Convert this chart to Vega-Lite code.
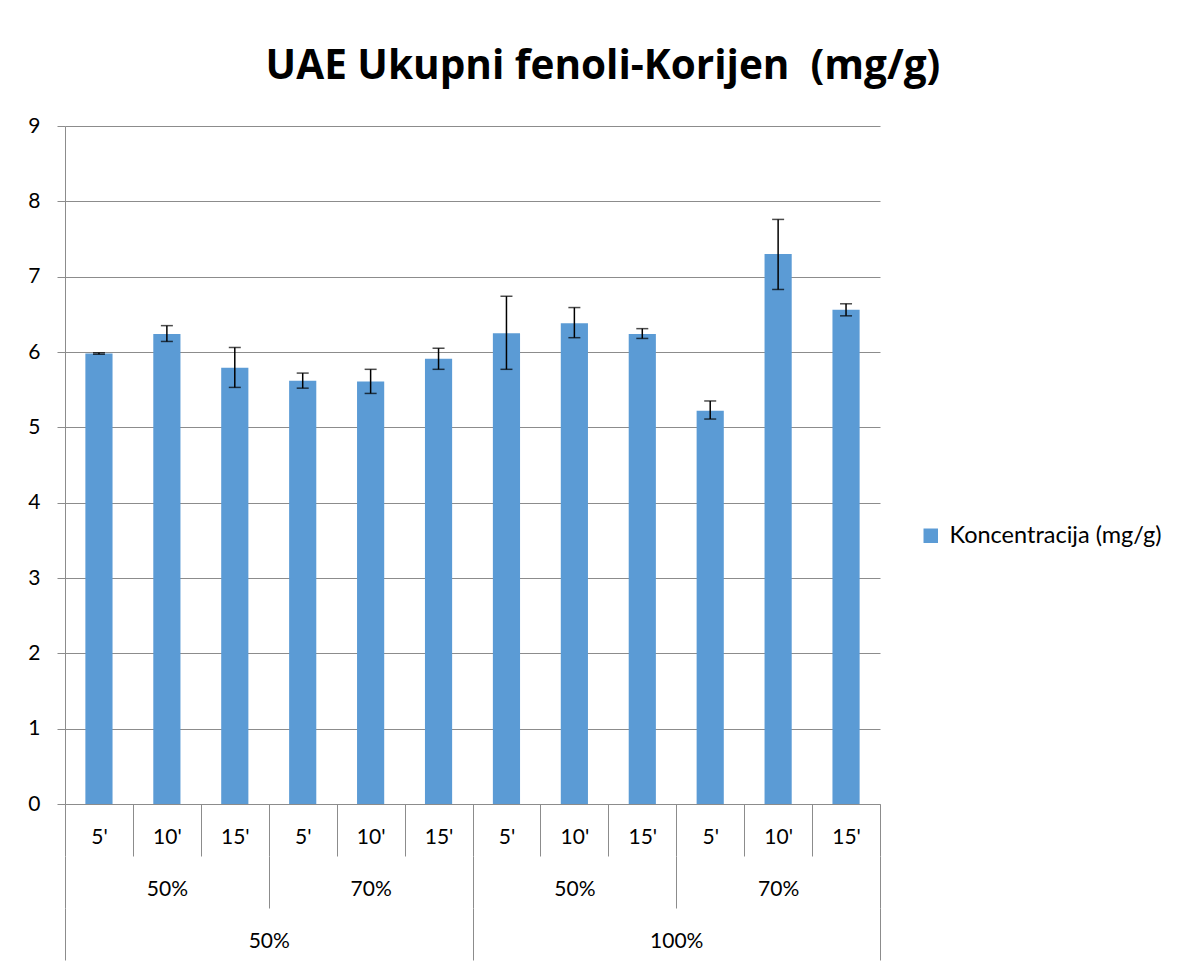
{
  "$schema": "https://vega.github.io/schema/vega-lite/v6.json",
  "width": 815,
  "height": 678,
  "padding": {"left": 27, "top": 46, "right": 10, "bottom": 5},
  "title": {
    "text": "UAE Ukupni fenoli-Korijen \u00a0(mg/g)",
    "font": "Open Sans",
    "fontSize": 40.5,
    "fontWeight": "bold",
    "color": "#000000",
    "anchor": "middle",
    "frame": "bounds",
    "dx": 8,
    "offset": 28
  },
  "data": {
    "values": [
      {"id": "50%|50%|5'", "g2": "50%|50%", "g3": "50%", "v": 5.98, "lo": 5.97, "hi": 5.99},
      {"id": "50%|50%|10'", "g2": "50%|50%", "g3": "50%", "v": 6.24, "lo": 6.14, "hi": 6.35},
      {"id": "50%|50%|15'", "g2": "50%|50%", "g3": "50%", "v": 5.79, "lo": 5.53, "hi": 6.06},
      {"id": "50%|70%|5'", "g2": "50%|70%", "g3": "50%", "v": 5.62, "lo": 5.52, "hi": 5.72},
      {"id": "50%|70%|10'", "g2": "50%|70%", "g3": "50%", "v": 5.61, "lo": 5.45, "hi": 5.77},
      {"id": "50%|70%|15'", "g2": "50%|70%", "g3": "50%", "v": 5.91, "lo": 5.77, "hi": 6.05},
      {"id": "100%|50%|5'", "g2": "100%|50%", "g3": "100%", "v": 6.25, "lo": 5.77, "hi": 6.74},
      {"id": "100%|50%|10'", "g2": "100%|50%", "g3": "100%", "v": 6.38, "lo": 6.19, "hi": 6.59},
      {"id": "100%|50%|15'", "g2": "100%|50%", "g3": "100%", "v": 6.24, "lo": 6.18, "hi": 6.31},
      {"id": "100%|70%|5'", "g2": "100%|70%", "g3": "100%", "v": 5.22, "lo": 5.11, "hi": 5.35},
      {"id": "100%|70%|10'", "g2": "100%|70%", "g3": "100%", "v": 7.30, "lo": 6.83, "hi": 7.76},
      {"id": "100%|70%|15'", "g2": "100%|70%", "g3": "100%", "v": 6.56, "lo": 6.48, "hi": 6.64}
    ]
  },
  "layer": [
    {
      "encoding": {
        "x": {
          "field": "id",
          "type": "nominal",
          "sort": null,
          "scale": {"type": "band", "paddingInner": 0, "paddingOuter": 0},
          "axis": {
            "title": null,
            "orient": "bottom",
            "offset": 0,
            "labelExpr": "split(datum.value, '|')[2]",
            "labelAngle": 0,
            "labelFont": "Lato",
            "labelFontSize": 21,
            "labelColor": "#000000",
            "labelBaseline": "middle",
            "labelPadding": -19,
            "tickBand": "extent",
            "tickSize": 52,
            "tickColor": "#8c8c8c",
            "domainColor": "#8c8c8c",
            "grid": false
          }
        }
      },
      "layer": [
        {
          "mark": {"type": "bar", "width": {"band": 0.4}},
          "encoding": {
            "y": {
              "field": "v",
              "type": "quantitative",
              "scale": {"domain": [0, 9], "nice": false, "zero": true},
              "axis": {
                "title": null,
                "values": [0, 1, 2, 3, 4, 5, 6, 7, 8, 9],
                "format": "d",
                "labelFont": "Lato",
                "labelFontSize": 21,
                "labelColor": "#000000",
                "labelPadding": 17,
                "tickSize": 8,
                "tickColor": "#8c8c8c",
                "domainColor": "#8c8c8c",
                "gridColor": "#8c8c8c",
                "grid": true
              }
            },
            "color": {
              "datum": "Koncentracija (mg/g)",
              "type": "nominal",
              "scale": {"range": ["#5b9bd5"]},
              "legend": {
                "title": null,
                "orient": "none",
                "legendX": 854,
                "legendY": 398,
                "symbolType": "square",
                "symbolSize": 210,
                "symbolStrokeWidth": 0,
                "symbolOpacity": 1,
                "labelFont": "Lato",
                "labelFontSize": 23.5,
                "labelColor": "#000000",
                "labelOffset": 7,
                "labelLimit": 400,
                "padding": 0
              }
            }
          }
        },
        {
          "mark": {"type": "rule", "color": "#000000", "strokeWidth": 1.5},
          "encoding": {
            "y": {"field": "lo", "type": "quantitative"},
            "y2": {"field": "hi"}
          }
        },
        {
          "mark": {"type": "tick", "color": "#000000", "size": 12, "thickness": 1.5},
          "encoding": {"y": {"field": "lo", "type": "quantitative"}}
        },
        {
          "mark": {"type": "tick", "color": "#000000", "size": 12, "thickness": 1.5},
          "encoding": {"y": {"field": "hi", "type": "quantitative"}}
        }
      ]
    },
    {
      "mark": {"type": "rule", "opacity": 0},
      "encoding": {
        "x": {
          "field": "g2",
          "type": "nominal",
          "sort": null,
          "scale": {"type": "band", "paddingInner": 0, "paddingOuter": 0},
          "axis": {
            "title": null,
            "orient": "bottom",
            "offset": 52,
            "domain": false,
            "labelExpr": "split(datum.value, '|')[1]",
            "labelAngle": 0,
            "labelFont": "Lato",
            "labelFontSize": 21,
            "labelColor": "#000000",
            "labelBaseline": "middle",
            "labelPadding": -19,
            "tickBand": "extent",
            "tickSize": 52,
            "tickColor": "#8c8c8c",
            "grid": false
          }
        }
      }
    },
    {
      "mark": {"type": "rule", "opacity": 0},
      "encoding": {
        "x": {
          "field": "g3",
          "type": "nominal",
          "sort": null,
          "scale": {"type": "band", "paddingInner": 0, "paddingOuter": 0},
          "axis": {
            "title": null,
            "orient": "bottom",
            "offset": 104,
            "domain": false,
            "labelAngle": 0,
            "labelFont": "Lato",
            "labelFontSize": 21,
            "labelColor": "#000000",
            "labelBaseline": "middle",
            "labelPadding": -19,
            "tickBand": "extent",
            "tickSize": 52,
            "tickColor": "#8c8c8c",
            "grid": false
          }
        }
      }
    }
  ],
  "resolve": {"scale": {"x": "independent"}, "axis": {"x": "independent"}},
  "config": {"view": {"stroke": null}, "background": "#ffffff"}
}
